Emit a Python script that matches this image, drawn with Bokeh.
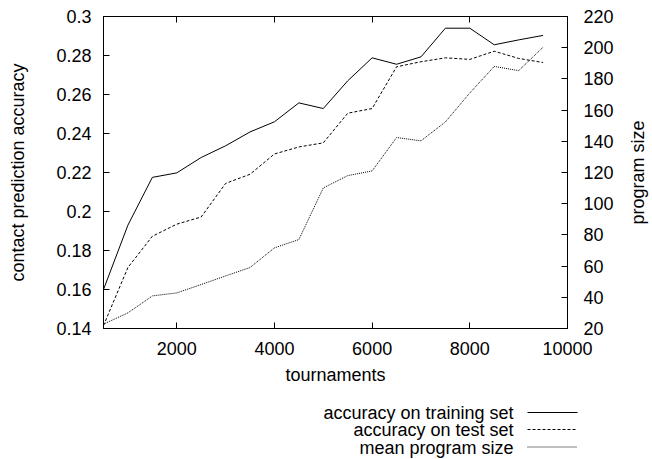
import math
from bokeh.plotting import figure
from bokeh.layouts import column, row
from bokeh.models import Range1d, LinearAxis, FixedTicker
from bokeh.core.properties import value
from bokeh.embed import file_html
from bokeh.resources import INLINE

# ---- data ----
tournaments = [500, 1000, 1500, 2000, 2500, 3000, 3500, 4000, 4500, 5000,
               5500, 6000, 6500, 7000, 7500, 8000, 8500, 9000, 9500]
acc_train = [0.160, 0.193, 0.2175, 0.2198, 0.2277, 0.2337, 0.2408, 0.246, 0.2557, 0.2528,
             0.267, 0.2788, 0.2755, 0.2793, 0.294, 0.294, 0.2855, 0.288, 0.2903]
acc_test = [0.1415, 0.1713, 0.1873, 0.1935, 0.1972, 0.2144, 0.2191, 0.2295, 0.2331, 0.2352,
            0.2504, 0.2528, 0.2742, 0.2768, 0.2788, 0.278, 0.2822, 0.2785, 0.2764]
program_size = [22.8, 30.0, 40.9, 42.8, 48.2, 53.7, 59.1, 71.7, 77.0, 110.1,
                118.0, 121.0, 142.4, 140.3, 152.4, 171.0, 188.0, 185.3, 200.3]

x_ticks = [2000, 4000, 6000, 8000, 10000]
x_tick_labels = ["2000", "4000", "6000", "8000", "10000"]
y_ticks = [0.14, 0.16, 0.18, 0.2, 0.22, 0.24, 0.26, 0.28, 0.3]
y_tick_labels = ["0.14", "0.16", "0.18", "0.2", "0.22", "0.24", "0.26", "0.28", "0.3"]
y2_ticks = [20, 40, 60, 80, 100, 120, 140, 160, 180, 200, 220]
y2_tick_labels = ["20", "40", "60", "80", "100", "120", "140", "160", "180", "200", "220"]

x_title = "tournaments"
y_title = "contact prediction accuracy"
y2_title = "program size"
legend_labels = ["accuracy on training set", "accuracy on test set", "mean program size"]

FONT = "Liberation Sans"
FS = "18px"

# ---- layout (page pixels; the page has no margin) ----
W = 652
RW = 32            # strip on the right that holds the rotated y2 title
H1 = 392           # main chart height
H2 = 459 - H1      # legend strip below it
FRAME_L, FRAME_R, FRAME_T, FRAME_B = 103, 567, 16, 328

p = figure(width=W - RW, height=H1, output_backend="svg", toolbar_location=None,
           x_range=Range1d(500, 10000), y_range=Range1d(0.14, 0.3),
           x_axis_location=None, y_axis_location=None,
           min_border_left=FRAME_L, min_border_right=W - RW - FRAME_R,
           min_border_top=FRAME_T, min_border_bottom=H1 - FRAME_B)
p.extra_y_ranges = {"size": Range1d(20, 220)}
p.grid.visible = False
p.outline_line_color = "black"
p.outline_line_width = 1
p.outline_line_alpha = 1
p.background_fill_color = "white"
p.border_fill_color = "white"


def style(ax):
    ax.axis_line_color = "black"
    ax.axis_line_width = 1
    ax.major_tick_line_color = "black"
    ax.major_tick_in = 6
    ax.major_tick_out = 0
    ax.minor_tick_in = 0
    ax.minor_tick_out = 0
    ax.minor_tick_line_color = None
    ax.major_label_text_font = FONT
    ax.major_label_text_font_size = FS
    ax.major_label_text_color = "black"
    ax.axis_label_text_font = FONT
    ax.axis_label_text_font_size = FS
    ax.axis_label_text_font_style = "normal"
    ax.axis_label_text_color = "black"


xaxis = LinearAxis(ticker=FixedTicker(ticks=x_ticks),
                   major_label_overrides=dict(zip(x_ticks, x_tick_labels)),
                   axis_label=x_title)
style(xaxis)
xaxis.major_label_standoff = 13
xaxis.axis_label_standoff = 7
p.add_layout(xaxis, "below")

xtop = LinearAxis(ticker=FixedTicker(ticks=x_ticks))
style(xtop)
xtop.major_label_text_font_size = "0px"
xtop.major_label_text_color = None
xtop.major_label_standoff = 0
p.add_layout(xtop, "above")

yaxis = LinearAxis(ticker=FixedTicker(ticks=y_ticks),
                   major_label_overrides=dict(zip(y_ticks, y_tick_labels)),
                   axis_label=y_title)
style(yaxis)
yaxis.major_label_standoff = 12
yaxis.axis_label_standoff = 25
p.add_layout(yaxis, "left")

y2axis = LinearAxis(y_range_name="size", ticker=FixedTicker(ticks=y2_ticks),
                    major_label_overrides=dict(zip(y2_ticks, y2_tick_labels)))
style(y2axis)
y2axis.major_label_standoff = 16
p.add_layout(y2axis, "right")

# ---- series ----
dashes = ["solid", "3 2", "1 1"]
p.line(tournaments, acc_train, line_color="black", line_width=1, line_dash=dashes[0])
p.line(tournaments, acc_test, line_color="black", line_width=1, line_dash=dashes[1])
p.line(tournaments, program_size, y_range_name="size", line_color="black",
       line_width=1, line_dash=dashes[2])


def strip(width, height, x0, y0):
    """A blank figure whose data units are page pixels (y downwards)."""
    f = figure(width=width, height=height, output_backend="svg", toolbar_location=None,
               x_range=Range1d(x0, x0 + width), y_range=Range1d(y0 + height, y0),
               x_axis_location=None, y_axis_location=None, min_border=0)
    f.grid.visible = False
    f.outline_line_color = None
    f.background_fill_color = "white"
    f.border_fill_color = "white"
    return f


# ---- right strip: y2 title, reading bottom to top ----
rstrip = strip(RW, H1, W - RW, 0)
rstrip.text(x=[637], y=[(FRAME_T + FRAME_B) / 2], text=[y2_title], angle=math.pi / 2,
            text_align="center", text_baseline="alphabetic",
            text_font=value(FONT), text_font_size=value(FS), text_color="black")

# ---- legend strip (text left, line sample right, as in the reference) ----
leg = strip(W, H2, 0, H1)
text_right = 513
sample_x0, sample_x1 = 527, 577
row_y = [412, 429, 446.5]
leg.text(x=[text_right] * 3, y=[r + 0.5 for r in row_y], text=legend_labels,
         text_align="right", text_baseline="alphabetic",
         text_font=value(FONT), text_font_size=value(FS), text_color="black")
for dash, ry in zip(dashes, row_y):
    leg.segment(x0=[sample_x0], y0=[ry], x1=[sample_x1], y1=[ry],
                line_color="black", line_width=1, line_dash=dash)

for fig in (p, rstrip, leg):
    if "frame_align" in fig.properties():
        fig.frame_align = False

layout = column(row(p, rstrip, spacing=0), leg, spacing=0)
open("out.html", "w").write(file_html(layout, INLINE))
